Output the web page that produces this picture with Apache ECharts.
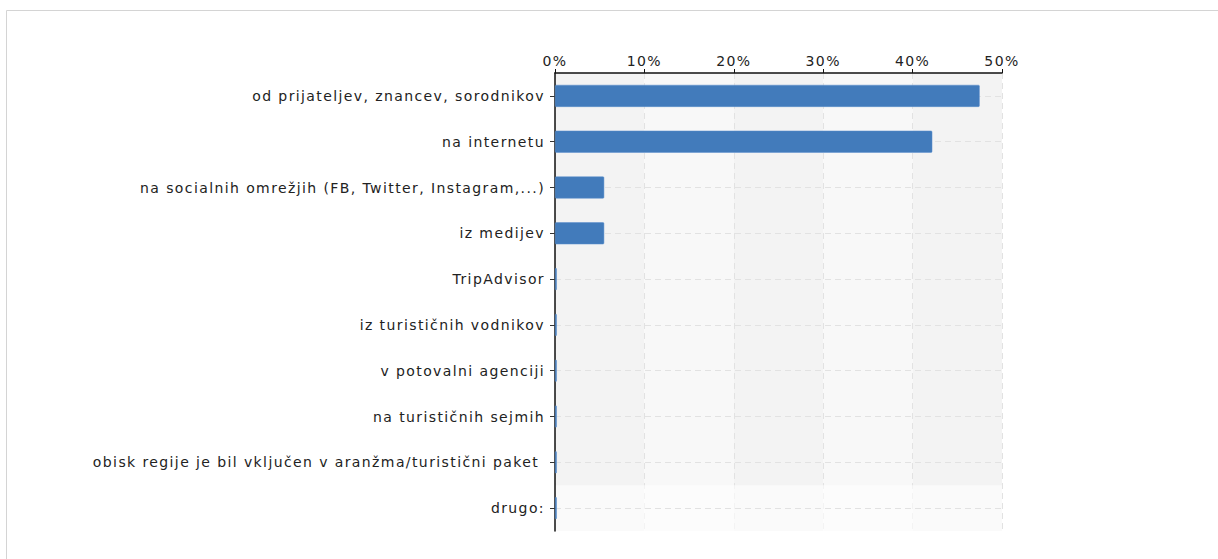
<!DOCTYPE html>
<html>
<head>
<meta charset="utf-8">
<script src="https://cdn.jsdelivr.net/npm/echarts@6/dist/echarts.min.js"></script>
<style>html,body{margin:0;padding:0;background:#fff}#c{width:1218px;height:559px}#c svg text{letter-spacing:1.4px}</style>
</head>
<body>
<div id="c"></div>
<script>
var categories = [
  'od prijateljev, znancev, sorodnikov',
  'na internetu',
  'na socialnih omrežjih (FB, Twitter, Instagram,...)',
  'iz medijev',
  'TripAdvisor',
  'iz turističnih vodnikov',
  'v potovalni agenciji',
  'na turističnih sejmih',
  'obisk regije je bil vključen v aranžma/turistični paket ',
  'drugo:'
];
var values = [47.5, 42.2, 5.5, 5.5, 0.2, 0.2, 0.2, 0.2, 0.2, 0.2];
var xTicks = [0, 10, 20, 30, 40, 50];

// ECharts draws a category y axis bottom-up, so hand it reversed copies
var catsBottomUp = categories.slice().reverse();
var valsBottomUp = values.slice().reverse();

var chart = echarts.init(document.getElementById('c'), null, {renderer: 'svg'});
var font = 'DejaVu Sans, Verdana, sans-serif';
var rowBands = catsBottomUp.map(function (c, i) { return i === 0 ? 'rgba(255,255,255,0.6)' : 'rgba(255,255,255,0)'; });
chart.setOption({
  animation: false,
  graphic: [{
    type: 'rect', shape: {x: 6.5, y: 10.5, width: 1300, height: 700},
    style: {fill: 'none', stroke: '#d4d4d4', lineWidth: 1}, silent: true, z: -10
  }],
  grid: {left: 555, right: 216, top: 73, bottom: 28, containLabel: false},
  xAxis: {
    type: 'value', position: 'top', min: 0, max: 50, interval: 10, z: 0,
    axisLine: {show: true, lineStyle: {color: '#111', width: 1.5}},
    axisTick: {show: true, length: 4, lineStyle: {color: '#111'}},
    axisLabel: {formatter: function (v) { return xTicks.indexOf(v) >= 0 ? v + '%' : ''; }, color: '#222', fontFamily: font, fontSize: 14, margin: 5},
    splitLine: {show: true, lineStyle: {color: '#e2e2e2', type: [6, 4], width: 1}},
    splitArea: {show: true, areaStyle: {color: ['#f3f3f3', '#f8f8f8']}}
  },
  yAxis: {
    type: 'category', data: catsBottomUp, z: 1,
    axisLine: {show: true, onZero: false, lineStyle: {color: '#111', width: 1.5}},
    axisTick: {show: true, alignWithLabel: true, length: 5, lineStyle: {color: '#333'}},
    splitLine: {show: true, alignWithLabel: true, lineStyle: {color: '#e2e2e2', type: [6, 4], width: 1}},
    splitArea: {show: true, areaStyle: {color: rowBands}},
    axisLabel: {color: '#222', fontFamily: font, fontSize: 14, margin: 10}
  },
  series: [{
    type: 'bar', data: valsBottomUp, barWidth: 22, z: 2,
    itemStyle: {color: '#427bbb', borderColor: '#5a8fcc', borderWidth: 0.5, borderRadius: 1}
  }]
});
</script>
</body>
</html>
